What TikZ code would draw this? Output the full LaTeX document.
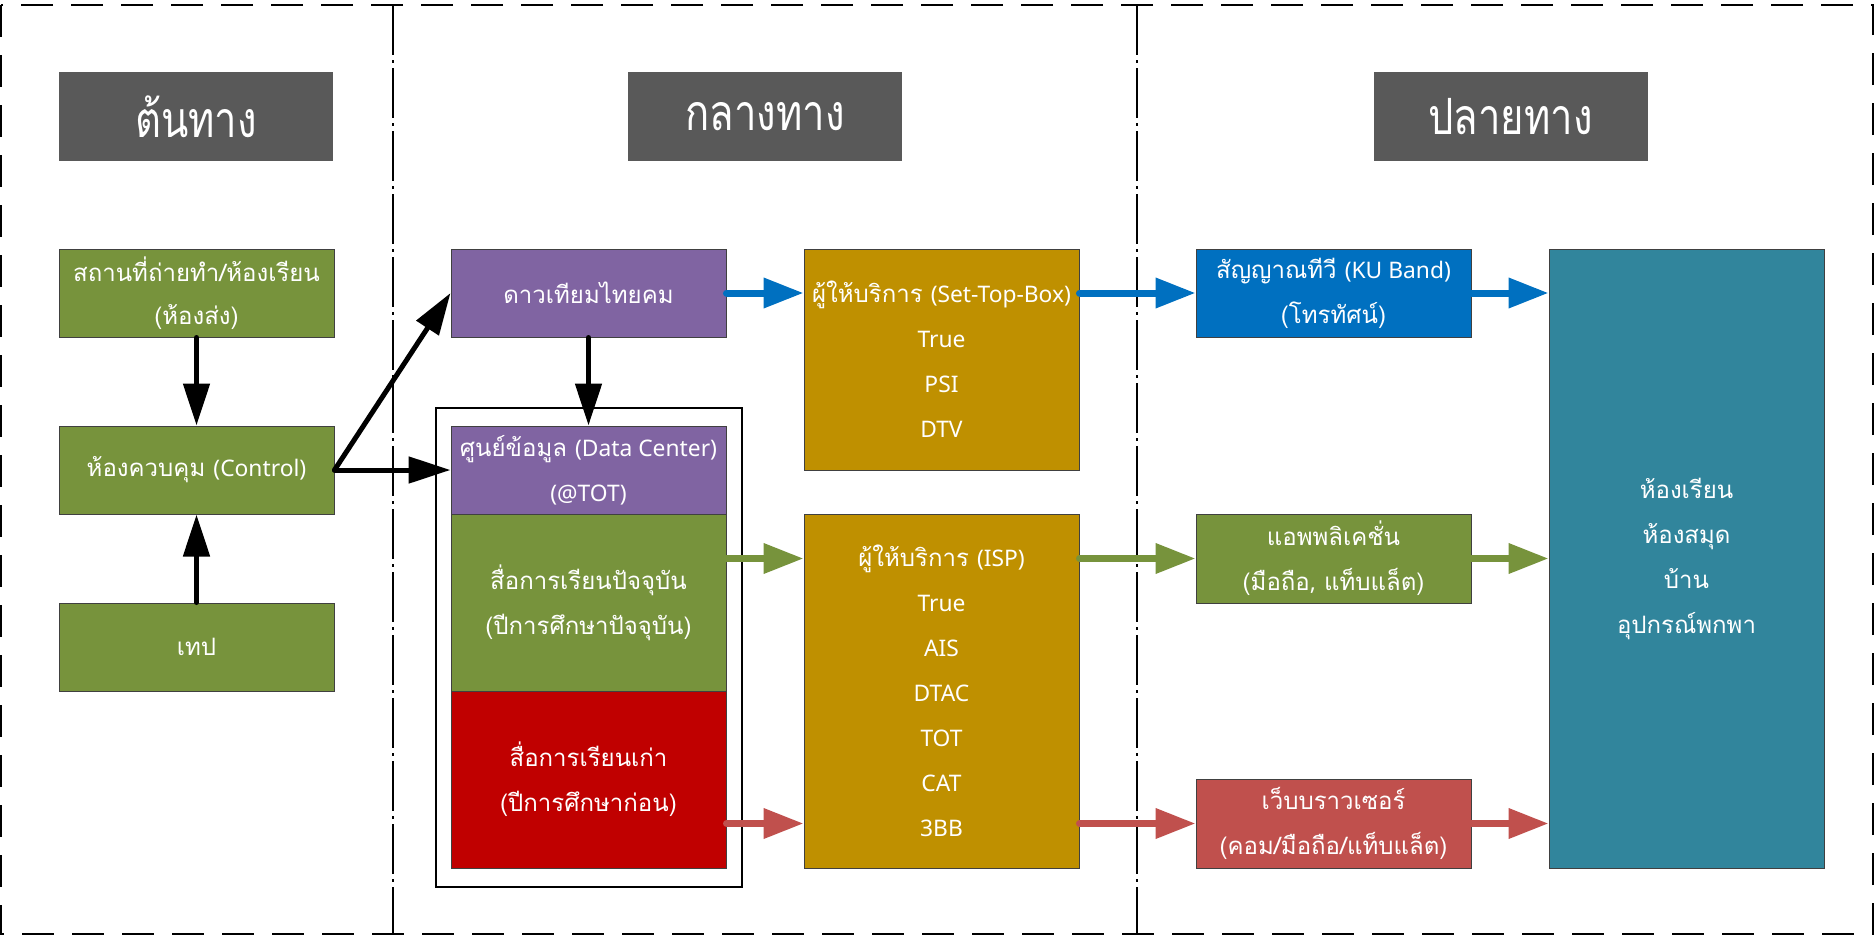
\documentclass[tikz,border=0pt]{standalone}
\usepackage{fontspec}
\setmainfont[Script=Thai]{Loma}
\newfontfamily\en[Scale=0.95]{Noto Sans}
\newfontfamily\titlefont[Script=Thai,FakeStretch=0.8]{Loma}
\usetikzlibrary{arrows.meta,fit,calc}
\definecolor{cTitle}{HTML}{595959}
\definecolor{cGreen}{HTML}{77933C}
\definecolor{cPurple}{HTML}{8064A2}
\definecolor{cGold}{HTML}{BF9000}
\definecolor{cRed}{HTML}{C00000}
\definecolor{cBlue}{HTML}{0070C0}
\definecolor{cTeal}{HTML}{31859C}
\definecolor{cRose}{HTML}{C0504D}
\begin{document}
\begin{tikzpicture}[x=1pt,y=-1pt,
  box/.style={draw=black!75, line width=1pt, minimum width=275pt, text=white, align=center, inner sep=0pt, font=\fontsize{24}{45}\selectfont},
  ttl/.style={fill=cTitle, minimum width=274pt, minimum height=89pt, text=white, font=\titlefont\fontsize{50}{50}\selectfont, inner sep=0pt},
  blk/.style={line width=5pt, line cap=round, -{Triangle[length=42pt,width=26pt]}},
  col/.style={line width=7pt, line cap=round, -{Triangle[length=40pt,width=29pt]}},
  divider/.style={line width=1.3pt, dash pattern=on 50pt off 5pt on 3pt off 5pt},
]
\useasboundingbox (0,0) rectangle (1874,937);
\draw[line width=2pt, dash pattern=on 32pt off 18pt] (1,5) rectangle (1873,934);
\draw[divider] (393,5) -- (393,934);
\draw[divider] (1137,5) -- (1137,934);

\node[ttl] (t1) at (196,116.5) {ต้นทาง};
\node[ttl] (t2) at (765,116.5) {กลางทาง};
\node[ttl] (t3) at (1510.5,116.5) {ปลายทาง};

\node[box, fill=cGreen, minimum height=88pt] (src) at (196.5,293) {สถานที่ถ่ายทำ/ห้องเรียน\\[-2pt](ห้องส่ง)};
\node[box, fill=cGreen, minimum height=88pt] (ctrl) at (196.5,470) {ห้องควบคุม {\en (Control)}};
\node[box, fill=cGreen, minimum height=88pt] (tape) at (196.5,647) {เทป};

\node[box, fill=cPurple, minimum height=88pt] (sat) at (588.5,293) {ดาวเทียมไทยคม};
\node[box, fill=cPurple, minimum height=88pt] (dc) at (588.5,470) {ศูนย์ข้อมูล {\en (Data Center)}\\{\en (@TOT)}};
\node[box, fill=cGreen, minimum height=177pt] (cur) at (588.5,602.5) {สื่อการเรียนปัจจุบัน\\(ปีการศึกษาปัจจุบัน)};
\node[box, fill=cRed, minimum height=177pt] (old) at (588.5,779.5) {สื่อการเรียนเก่า\\(ปีการศึกษาก่อน)};
\node[draw, line width=2pt, fit=(dc)(old), inner xsep=15pt, inner ysep=18pt] (cont) {};

\node[box, fill=cGold, minimum height=221pt] (stb) at (941.5,359.5) {ผู้ให้บริการ {\en (Set-Top-Box)}\\{\en True}\\{\en PSI}\\{\en DTV}};
\node[box, fill=cGold, minimum height=354pt] (isp) at (941.5,691) {ผู้ให้บริการ {\en (ISP)}\\{\en True}\\{\en AIS}\\{\en DTAC}\\{\en TOT}\\{\en CAT}\\{\en 3BB}};

\node[box, fill=cBlue, minimum height=88pt] (tv) at (1333.5,293) {สัญญาณทีวี {\en (KU Band)}\\(โทรทัศน์)};
\node[box, fill=cGreen, minimum height=89pt] (app) at (1333.5,558.5) {แอพพลิเคชั่น\\(มือถือ{\en,} แท็บแล็ต)};
\node[box, fill=cRose, minimum height=89pt] (web) at (1333.5,823.5) {เว็บบราวเซอร์\\(คอม/มือถือ/แท็บแล็ต)};

\node[box, fill=cTeal, minimum height=619pt] (dest) at (1686.5,558.5) {ห้องเรียน\\ห้องสมุด\\บ้าน\\อุปกรณ์พกพา};

\draw[blk] (src.south) -- (ctrl.north);
\draw[blk] (tape.north) -- (ctrl.south);
\draw[blk] (ctrl.east) -- (sat.west);
\draw[blk] (ctrl.east) -- (dc.west);
\draw[blk] (sat.south) -- (dc.north);

\draw[col, cBlue] (sat.east) -- (sat.east -| stb.west);
\draw[col, cBlue] (sat.east -| stb.east) -- (tv.west);
\draw[col, cBlue] (tv.east) -- (tv.east -| dest.west);
\draw[col, cGreen] (app.west -| cur.east) -- (app.west -| isp.west);
\draw[col, cGreen] (app.west -| isp.east) -- (app.west);
\draw[col, cGreen] (app.east) -- (app.east -| dest.west);
\draw[col, cRose] (web.west -| old.east) -- (web.west -| isp.west);
\draw[col, cRose] (web.west -| isp.east) -- (web.west);
\draw[col, cRose] (web.east) -- (web.east -| dest.west);
\end{tikzpicture}
\end{document}
